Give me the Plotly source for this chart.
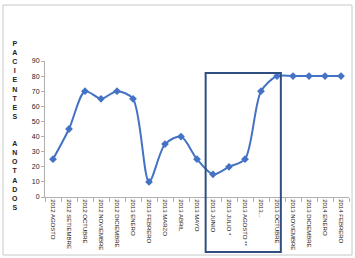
import plotly.graph_objects as go

months = ["2012 AGOSTO", "2012 SETIEMBRE", "2012 OCTUBRE", "2012 NOVIEMBRE", "2012 DICIEMBRE",
          "2013 ENERO", "2013 FEBRERO", "2013 MARZO", "2013 ABRIL", "2013 MAYO", "2013 JUNIO",
          "2013 JULIO *", "2013 AGOSTO **", "2013...", "2013 OCTUBRE", "2013 NOVIEMBRE",
          "2013 DICIEMBRE", "2014 ENERO", "2014 FEBRERO"]
pacientes = [25, 45, 70, 65, 70, 65, 10, 35, 40, 25, 15, 20, 25, 70, 80, 80, 80, 80, 80]
y_ticks = [0, 10, 20, 30, 40, 50, 60, 70, 80, 90]
y_title = "PACIENTES  ANOTADOS"

W, H = 355, 258
L, R, T, B = 45, 6, 61, 61
pw, ph = W - L - R, H - T - B

fig = go.Figure()
fig.add_trace(go.Scatter(
    x=months, y=pacientes, mode="lines+markers",
    line=dict(color="#4472C4", width=2, shape="spline", smoothing=0.8),
    marker=dict(symbol="diamond", size=6, color="#4472C4"),
    hoverinfo="skip", showlegend=False))

title_html = "<br>".join(ch if ch != " " else " " for ch in y_title)

fig.update_layout(
    width=W, height=H, margin=dict(l=L, r=R, t=T, b=B),
    paper_bgcolor="white", plot_bgcolor="white",
    font=dict(family="Liberation Sans, Arial, sans-serif", color="#222"),
    xaxis=dict(type="category", categoryorder="array", categoryarray=months,
               range=[-0.5, len(months) - 0.5], tickangle=90, tickson="boundaries",
               tickfont=dict(size=6, color="#222"), showgrid=False,
               showline=True, linecolor="#b0b0b0", linewidth=1,
               ticks="outside", ticklen=4, tickcolor="#b0b0b0", zeroline=False),
    yaxis=dict(range=[0, 90], tickvals=y_ticks, tickfont=dict(size=7, color="#222"),
               showgrid=False, showline=True, linecolor="#b0b0b0", linewidth=1,
               ticks="outside", ticklen=3, tickcolor="#b0b0b0", zeroline=False),
    annotations=[dict(text="<b>" + title_html + "</b>", xref="paper", yref="paper",
                      x=(15 - L) / pw, y=(197 - 125) / ph, xanchor="center", yanchor="middle",
                      showarrow=False, font=dict(size=7, color="#222"), align="center")],
    shapes=[
        dict(type="rect", xref="paper", yref="paper",
             x0=(3 - L) / pw, x1=(352 - L) / pw, y0=(197 - 255) / ph, y1=(197 - 5) / ph,
             line=dict(color="#c8c8c8", width=1), fillcolor="rgba(0,0,0,0)", layer="below"),
        dict(type="rect", xref="x", yref="paper",
             x0=9.54, x1=14.24, y0=(197 - 252) / ph, y1=(197 - 73) / ph,
             line=dict(color="#2F4F80", width=2), fillcolor="rgba(0,0,0,0)"),
    ],
)

fig.write_html("out.html")
